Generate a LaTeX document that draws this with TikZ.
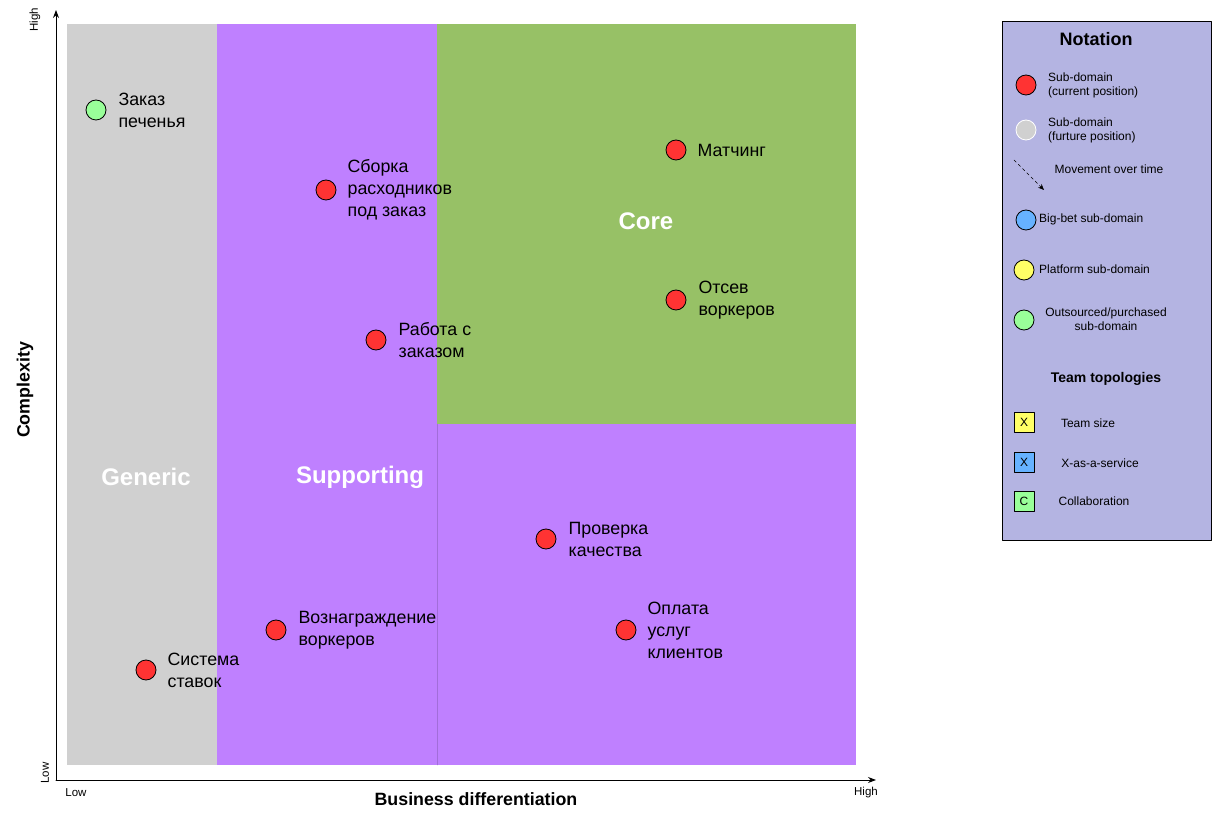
\documentclass[tikz,border=0pt]{standalone}
\usepackage{fontspec}
\setmainfont{Liberation Sans}
\usetikzlibrary{positioning,arrows.meta}
\definecolor{genericgray}{HTML}{D0D0D0}
\definecolor{suppviolet}{HTML}{BF80FF}
\definecolor{coregreen}{HTML}{97C166}
\definecolor{legendblue}{HTML}{B4B4E2}
\definecolor{domred}{HTML}{FF3333}
\definecolor{domgray}{HTML}{D0D0D0}
\definecolor{domblue}{HTML}{66B2FF}
\definecolor{domyellow}{HTML}{FFFF66}
\definecolor{domgreen}{HTML}{99FF99}
\tikzstyle{every path}=[line cap=round, line join=round]
\tikzstyle{dom}=[circle, draw=black, line width=0.8pt, minimum size=20pt, inner sep=0pt]
\tikzstyle{lbl}=[font=\fontsize{17.8}{22}\selectfont, align=left, inner sep=0pt]
\tikzstyle{area}=[font=\fontsize{24}{28}\selectfont\bfseries, text=white]
\tikzstyle{leg}=[font=\fontsize{12}{14}\selectfont, align=left, inner sep=0pt]
\tikzstyle{legbox}=[draw=black, line width=0.8pt, minimum size=20pt, inner sep=0pt,
  font=\fontsize{12}{14}\selectfont]

\begin{document}
\begin{tikzpicture}[x=1pt, y=-1pt]
  \useasboundingbox (0,0) rectangle (1227,826);

  % Regions
  \fill[genericgray] (67,24) rectangle (217,765);
  \fill[suppviolet] (217,24) rectangle (437,765);
  \fill[coregreen] (437,24) rectangle (856,424);
  \fill[suppviolet] (437,424) rectangle (856,765);
  \draw[suppviolet!85!black, line width=0.4pt] (437,424) -- (437,765);

  \node[area] (generic) at (146,477) {Generic};
  \node[area] (supporting) at (360,477) {Supporting};
  \node[area] (core) at (646,221) {Core};

  % Axes
  \coordinate (o) at (56,780);
  \coordinate (ytop) at (56,10);
  \coordinate (xend) at (876,780);
  \draw[line width=1pt, -{Stealth[length=8pt, width=6pt]}] (o) -- (ytop);
  \draw[line width=1pt, -{Stealth[length=8pt, width=6pt]}] (o) -- (xend);

  \node[rotate=90, font=\fontsize{11.5}{13}\selectfont] (yhigh) at (35,20) {High};
  \node[rotate=90, font=\fontsize{11.5}{13}\selectfont] (ylow) at (45,773) {Low};
  \node[font=\fontsize{11.5}{13}\selectfont] (xlow) at (76,793) {Low};
  \node[font=\fontsize{11.5}{13}\selectfont] (xhigh) at (866,793) {High};
  \node[rotate=90, font=\fontsize{17.8}{20}\selectfont\bfseries] (ylabel) at (25,390) {Complexity};
  \node[font=\fontsize{17.8}{20}\selectfont\bfseries] (xlabel) at (476,799) {Business differentiation};

  % Sub-domains
  \node[dom, fill=domgreen] (cookie) at (96,110) {};
  \node[lbl, right=12pt of cookie] (cookietxt) {Заказ\\печенья};
  \node[dom, fill=domred] (assembly) at (326,190) {};
  \node[lbl, right=11pt of assembly] (assemblytxt) {Сборка\\расходников\\под заказ};
  \node[dom, fill=domred] (match) at (676,150) {};
  \node[lbl, right=11pt of match] (matchtxt) {Матчинг};
  \node[dom, fill=domred] (screen) at (676,300) {};
  \node[lbl, right=12pt of screen] (screentxt) {Отсев\\воркеров};
  \node[dom, fill=domred] (order) at (376,340) {};
  \node[lbl, right=12pt of order] (ordertxt) {Работа с\\заказом};
  \node[dom, fill=domred] (quality) at (546,539) {};
  \node[lbl, right=12pt of quality] (qualitytxt) {Проверка\\качества};
  \node[dom, fill=domred] (reward) at (276,630) {};
  \node[lbl, right=12pt of reward] (rewardtxt) {Вознаграждение\\воркеров};
  \node[dom, fill=domred] (payment) at (626,630) {};
  \node[lbl, right=11pt of payment] (paymenttxt) {Оплата\\услуг\\клиентов};
  \node[dom, fill=domred] (bids) at (146,670) {};
  \node[lbl, right=11pt of bids] (bidstxt) {Система\\ставок};

  % Notation
  \draw[fill=legendblue, line width=0.8pt] (1002,21) rectangle (1211,540);
  \node[font=\fontsize{18}{20}\selectfont\bfseries] (notation) at (1096,39) {Notation};

  \node[dom, fill=domred] (lcur) at (1026,85) {};
  \node[leg, anchor=west] (lcurtxt) at (1048,85) {Sub-domain\\(current position)};
  \node[dom, fill=domgray, draw=white] (lfut) at (1026,130) {};
  \node[leg, anchor=west] (lfuttxt) at (1048,130) {Sub-domain\\(furture position)};
  \coordinate (mva) at (1014,160);
  \coordinate (mvb) at (1044,190);
  \draw[dashed, line width=0.6pt, -{Stealth[length=6pt, width=5pt]}] (mva) -- (mvb);
  \node[leg] (mvtxt) at (1109,169) {Movement over time};

  \node[dom, fill=domblue] (lbig) at (1026,220) {};
  \node[leg, anchor=west] (lbigtxt) at (1039,219) {Big-bet sub-domain};
  \node[dom, fill=domyellow] (lplat) at (1024,270) {};
  \node[leg, anchor=west] (lplattxt) at (1039,269) {Platform sub-domain};
  \node[dom, fill=domgreen] (lout) at (1024,320) {};
  \node[leg, align=center] (louttxt) at (1106,319) {Outsourced/purchased\\sub-domain};

  \node[font=\fontsize{14}{16}\selectfont\bfseries] (topo) at (1106,379) {Team topologies};
  \node[legbox, fill=domyellow] (tsize) at (1024,422) {X};
  \node[leg] (tsizetxt) at (1088,423) {Team size};
  \node[legbox, fill=domblue] (txaas) at (1024,462) {X};
  \node[leg] (txaastxt) at (1100,463) {X-as-a-service};
  \node[legbox, fill=domgreen] (tcollab) at (1024,501) {C};
  \node[leg] (tcollabtxt) at (1094,501) {Collaboration};
\end{tikzpicture}
\end{document}
